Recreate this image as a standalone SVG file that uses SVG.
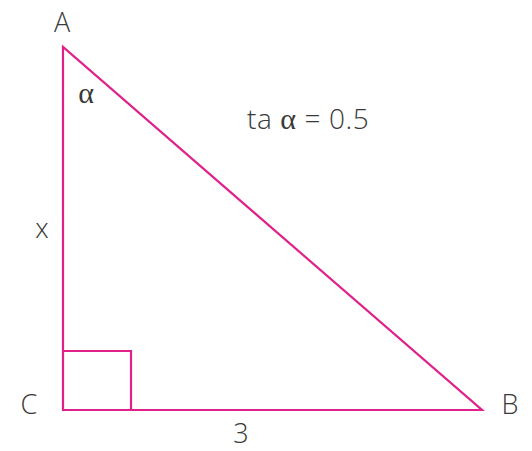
<svg xmlns="http://www.w3.org/2000/svg" width="532" height="451" viewBox="0 0 532 451">
<style>
.s{fill:none;stroke:#e0218a;stroke-width:2.2;stroke-linejoin:miter}
.t{font-family:"Open Sans","Liberation Sans",sans-serif;font-weight:300;fill:#3a3a3a;font-size:27px}
.g{font-family:"Liberation Serif","DejaVu Serif",serif;font-weight:normal;font-size:30px}
</style>
<rect width="532" height="451" fill="#fff"/>
<g id="connectors">
<polygon class="s" points="63,47 63,410 482,410"/>
<polyline class="s" points="63,351 131,351 131,410"/>
</g>
<g id="A"><text class="t" x="62" y="32" text-anchor="middle">A</text></g>
<g id="B"><text class="t" x="510" y="414" text-anchor="middle">B</text></g>
<g id="C"><text class="t" x="29" y="414" text-anchor="middle">C</text></g>
<g id="labels">
<text class="t g" x="86" y="103" text-anchor="middle">α</text>
<text class="t" x="42" y="238" text-anchor="middle">x</text>
<text class="t" x="241" y="443" text-anchor="middle">3</text>
<text class="t" x="247" y="129" style="font-size:28px;letter-spacing:0.6px">ta <tspan class="g">α</tspan> = 0.5</text>
</g>
</svg>
